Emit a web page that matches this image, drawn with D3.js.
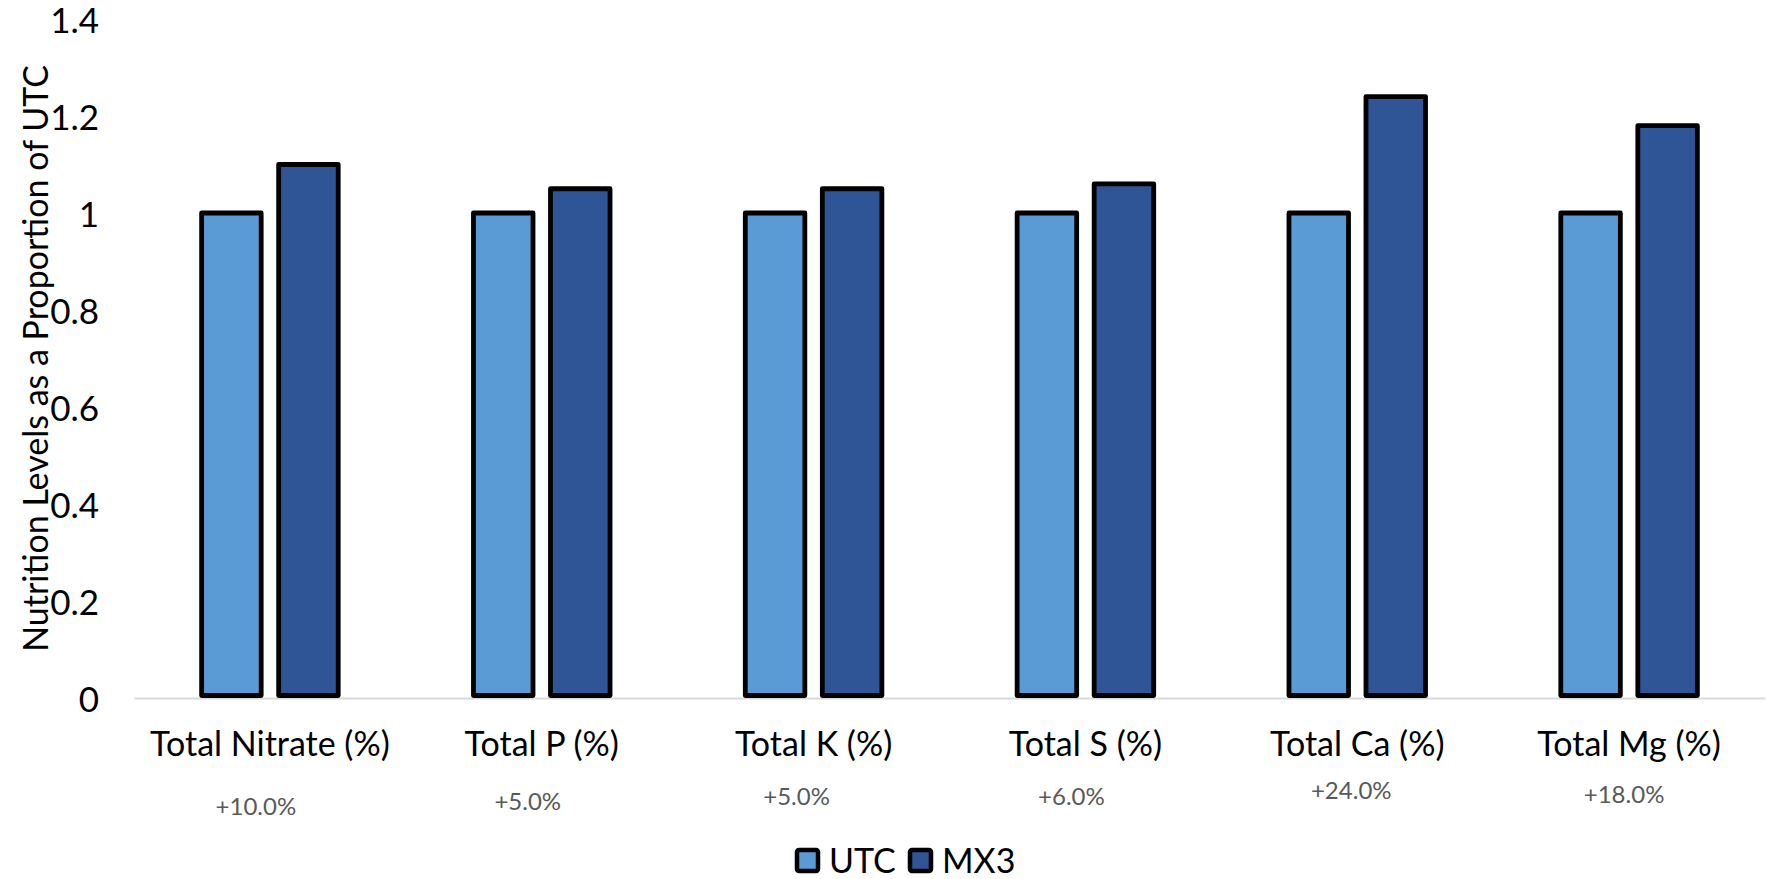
<!DOCTYPE html>
<html>
<head>
<meta charset="utf-8">
<script src="https://cdn.jsdelivr.net/npm/d3@7"></script>
<style>
  html, body { margin: 0; padding: 0; background: #ffffff; }
  svg { display: block; }
  text { font-family: Lato, "Open Sans", sans-serif; }
</style>
</head>
<body>
<svg id="chart" width="1772" height="879"></svg>
<script>
// Nutrient categories and the two treatments
const categories = ["Total Nitrate (%)", "Total P (%)", "Total K (%)", "Total S (%)", "Total Ca (%)", "Total Mg (%)"];
const seriesNames = ["UTC", "MX3"];
const utcValues = [1, 1, 1, 1, 1, 1];
const mx3Values = [1.10, 1.05, 1.05, 1.06, 1.24, 1.18];
const yTicks = [0, 0.2, 0.4, 0.6, 0.8, 1, 1.2, 1.4];
const colors = ["#5B9BD5", "#2F5597"];

// small hand nudges for the free-floating change notes (dx, dy in px)
const noteNudge = [[-14, 10], [-14, 5], [-17, 0], [-14, 0], [-6, -6], [-5, -2]];

const svg = d3.select("#chart");
const plot = { left: 134, right: 1765, top: 19, bottom: 698 };

const x0 = d3.scaleBand().domain(categories).range([plot.left, plot.right]).padding(0);
const x1 = d3.scaleBand().domain(seriesNames).range([0, x0.bandwidth()])
  .paddingInner(0.227).paddingOuter(0.878);
const y = d3.scaleLinear().domain([0, 1.4]).range([plot.bottom, plot.top]);

const rows = categories.map((c, i) => ({
  category: c,
  values: [utcValues[i], mx3Values[i]]
}));

// y tick labels (no gridlines)
svg.append("g")
  .selectAll("text")
  .data(yTicks)
  .join("text")
  .attr("x", 99)
  .attr("y", d => y(d) + 1)
  .attr("dy", "0.36em")
  .attr("text-anchor", "end")
  .attr("font-size", 35)
  .attr("fill", "#000")
  .text(d => String(d));

// y axis title
svg.append("text")
  .attr("transform", `translate(36, ${(plot.top + plot.bottom) / 2}) rotate(-90)`)
  .attr("text-anchor", "middle")
  .attr("dy", "0.35em")
  .attr("font-size", 34)
  .attr("fill", "#000")
  .text("Nutrition Levels as a Proportion of UTC");

// category axis via d3.axisBottom, restyled
const xAxis = svg.append("g")
  .attr("transform", `translate(0, ${plot.bottom})`)
  .call(d3.axisBottom(x0).tickSize(0).tickPadding(34));
xAxis.select(".domain").attr("stroke", "#D9D9D9").attr("stroke-width", 2);
xAxis.selectAll(".tick text")
  .attr("font-size", 34)
  .attr("font-family", "Lato, 'Open Sans', sans-serif")
  .attr("fill", "#000");

// bars
const groups = svg.append("g")
  .selectAll("g")
  .data(rows)
  .join("g")
  .attr("transform", d => `translate(${x0(d.category)}, 0)`);

groups.selectAll("rect")
  .data(d => d.values.map((v, j) => ({ name: seriesNames[j], value: v, j })))
  .join("rect")
  .attr("x", d => x1(d.name))
  .attr("width", x1.bandwidth())
  .attr("y", d => y(d.value))
  .attr("height", d => y(0) - y(d.value) - 2.5)
  .attr("fill", d => colors[d.j])
  .attr("stroke", "#000")
  .attr("stroke-width", 4.8)
  .attr("stroke-linejoin", "round");

// percentage change notes under each category
svg.append("g")
  .selectAll("text")
  .data(rows)
  .join("text")
  .attr("x", (d, i) => x0(d.category) + x0.bandwidth() / 2 + noteNudge[i][0])
  .attr("y", (d, i) => 797 + noteNudge[i][1])
  .attr("dy", "0.35em")
  .attr("text-anchor", "middle")
  .attr("font-size", 24)
  .attr("fill", "#595959")
  .text(d => "+" + ((d.values[1] - d.values[0]) / d.values[0] * 100).toFixed(1) + "%");

// legend
const legend = svg.append("g").attr("transform", "translate(0, 860)");
const legendX = [795, 908];
const item = legend.selectAll("g")
  .data(seriesNames)
  .join("g")
  .attr("transform", (d, i) => `translate(${legendX[i]}, 0)`);
item.append("rect")
  .attr("x", 2).attr("y", -10)
  .attr("width", 21).attr("height", 21)
  .attr("rx", 2)
  .attr("fill", (d, i) => colors[i])
  .attr("stroke", "#000")
  .attr("stroke-width", 4.5)
  .attr("stroke-linejoin", "round");
item.append("text")
  .attr("x", 34)
  .attr("y", 1)
  .attr("dy", "0.36em")
  .attr("font-size", 34)
  .attr("fill", "#000")
  .text(d => d);
</script>
</body>
</html>
